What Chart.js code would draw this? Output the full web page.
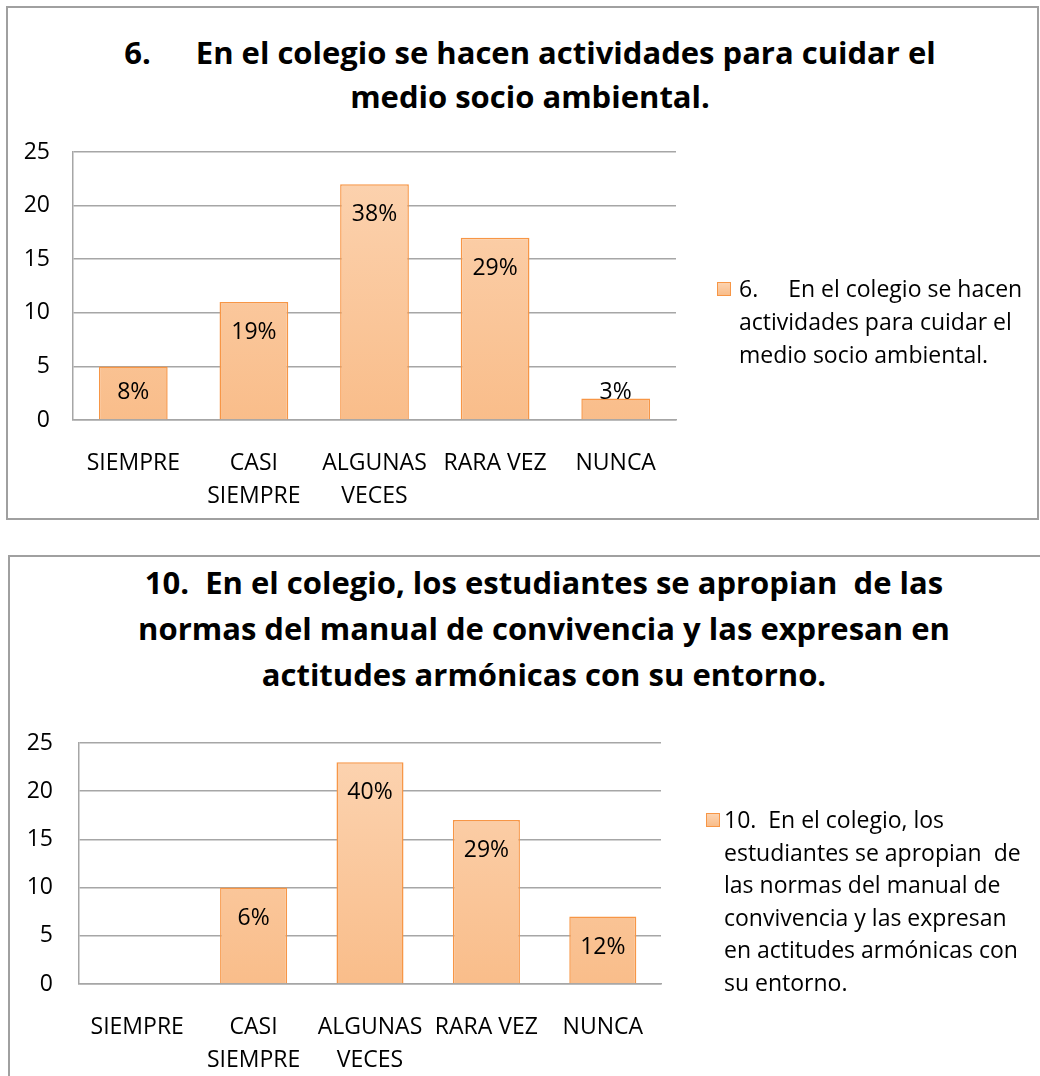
<!DOCTYPE html>
<html>
<head>
<meta charset="utf-8">
<script src="https://cdn.jsdelivr.net/npm/chart.js@4.4.1/dist/chart.umd.min.js"></script>
<style>
  body { margin: 0; width: 1040px; height: 1076px; background: #fff; position: relative; overflow: hidden; font-family: "Open Sans", Lato, sans-serif; color: #000; }
  .frame { position: absolute; border: 2px solid #a0a0a0; box-sizing: border-box; }
  canvas { position: absolute; }
  .title { position: absolute; font-weight: bold; font-size: 31px; text-align: center; white-space: pre; }
  .legend { position: absolute; font-size: 23px; white-space: pre; }
  .swatch { position: absolute; width: 12px; height: 12px; border: 1.5px solid #f79646; background: linear-gradient(#fcd3b0, #f9bd8a); }
  .tab { display: inline-block; }
</style>
</head>
<body>

<div class="frame" style="left:6px; top:6px; width:1033px; height:514px;"></div>
<div class="frame" style="left:8px; top:555px; width:1040px; height:540px;"></div>

<div class="title" id="title1" style="left:30px; width:1000px; top:30px; line-height:44px;"></div>
<div class="title" id="title2" style="left:44px; width:1000px; top:559px; line-height:46px;"></div>

<canvas id="chart1" width="1028" height="509" style="left:8px; top:8px;"></canvas>
<canvas id="chart2" width="1030" height="519" style="left:10px; top:557px;"></canvas>

<div class="swatch" style="left:717px; top:282px;"></div>
<div class="legend" id="legend1" style="left:739px; top:272px; line-height:33px;"></div>
<div class="swatch" style="left:706px; top:813px;"></div>
<div class="legend" id="legend2" style="left:724px; top:803px; line-height:32.5px;"></div>

<script>
// Datos
const categorias = [['SIEMPRE'], ['CASI', 'SIEMPRE'], ['ALGUNAS', 'VECES'], ['RARA VEZ'], ['NUNCA']];
const valores6 = [5, 11, 22, 17, 2];
const porcentajes6 = ['8%', '19%', '38%', '29%', '3%'];
const valores10 = [0, 10, 23, 17, 7];
const porcentajes10 = ['', '6%', '40%', '29%', '12%'];
const ticksY = [0, 5, 10, 15, 20, 25];

const titulo6 = '6.<span class="tab" style="width:45px"></span>En el colegio se hacen actividades para cuidar el\nmedio socio ambiental.';
const titulo10 = '10.  En el colegio, los estudiantes se apropian  de las\nnormas del manual de convivencia y las expresan en\nactitudes armónicas con su entorno.';
const leyenda6 = '6.<span class="tab" style="width:30px"></span>En el colegio se hacen\nactividades para cuidar el\nmedio socio ambiental.';
const leyenda10 = '10.  En el colegio, los\nestudiantes se apropian  de\nlas normas del manual de\nconvivencia y las expresan\nen actitudes armónicas con\nsu entorno.';

document.getElementById('title1').innerHTML = titulo6;
document.getElementById('title2').innerHTML = titulo10;
document.getElementById('legend1').innerHTML = leyenda6;
document.getElementById('legend2').innerHTML = leyenda10;

const fuente = '"Open Sans", Lato, sans-serif';
const gris = '#a6a6a6';
const naranja = '#f79646';

// Degradado de las barras
function degradado(context) {
    const area = context.chart.chartArea;
    if (!area) return '#fac8a0';
    const g = context.chart.ctx.createLinearGradient(0, area.top, 0, area.bottom);
    g.addColorStop(0, '#fcd4b2');
    g.addColorStop(1, '#f9bd8a');
    return g;
}

// Etiquetas de porcentaje dentro de las barras
const etiquetasPlugin = {
    id: 'etiquetas',
    afterDatasetsDraw(chart, args, opts) {
        const ctx = chart.ctx;
        const meta = chart.getDatasetMeta(0);
        ctx.save();
        ctx.font = '23px ' + fuente;
        ctx.fillStyle = '#000';
        ctx.textAlign = 'center';
        ctx.textBaseline = 'middle';
        meta.data.forEach((bar, i) => {
            const txt = opts.textos[i];
            if (!txt) return;
            const y = Math.min(bar.y + 30.5, bar.base - 27);
            ctx.fillText(txt, bar.x, y);
        });
        ctx.restore();
    }
};

function crearGrafico(id, valores, textos, cfg) {
    new Chart(document.getElementById(id), {
        type: 'bar',
        data: {
            labels: categorias,
            datasets: [{
                data: valores,
                backgroundColor: degradado,
                borderColor: naranja,
                borderWidth: 1.5,
                barPercentage: cfg.barPct,
                categoryPercentage: 1
            }]
        },
        options: {
            responsive: false,
            animation: false,
            layout: { padding: { top: cfg.top, right: cfg.right, left: 0, bottom: 0 } },
            plugins: {
                legend: { display: false },
                title: { display: false },
                tooltip: { enabled: false },
                etiquetas: { textos: textos }
            },
            scales: {
                x: {
                    grid: { display: false },
                    border: { display: true, color: gris, width: 1.5 },
                    ticks: {
                        color: '#000',
                        font: { family: fuente, size: 23, lineHeight: 1.435 },
                        padding: 18.5,
                        maxRotation: 0,
                        autoSkip: false
                    },
                    afterFit: s => { s.height = cfg.xHeight; }
                },
                y: {
                    min: 0,
                    max: 25,
                    afterBuildTicks: s => { s.ticks = ticksY.map(v => ({ value: v })); },
                    grid: { color: gris, lineWidth: 1.5, drawTicks: false },
                    border: { display: true, color: gris, width: 1.5 },
                    ticks: {
                        color: '#000',
                        font: { family: fuente, size: 23 },
                        padding: cfg.yPad
                    },
                    afterFit: s => { s.width = cfg.yWidth; }
                }
            }
        },
        plugins: [etiquetasPlugin]
    });
}

crearGrafico('chart1', valores6, porcentajes6, { top: 144, right: 360, xHeight: 97, yWidth: 65, yPad: 23, barPct: 0.57 });
crearGrafico('chart2', valores10, porcentajes10, { top: 186, right: 379, xHeight: 92, yWidth: 69, yPad: 26, barPct: 0.576 });
</script>
</body>
</html>
